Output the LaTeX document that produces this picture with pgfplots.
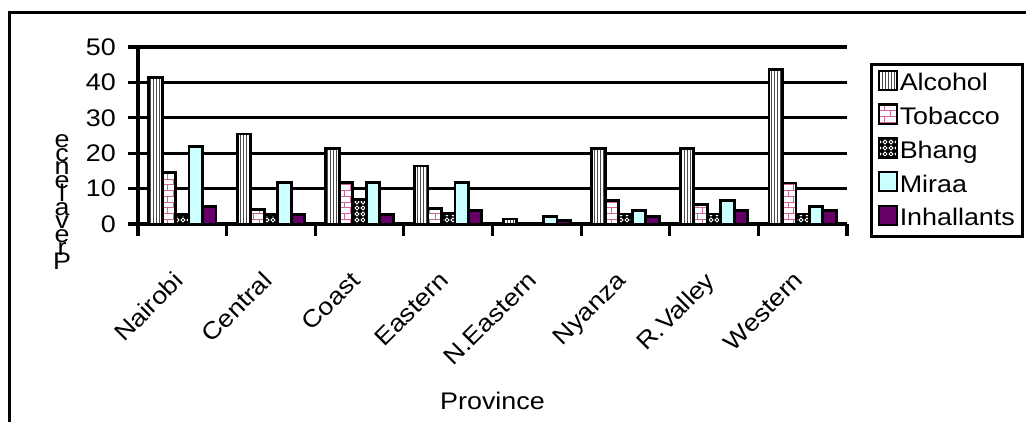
\documentclass[border=0pt]{standalone}
\usepackage{fontspec}
\setmainfont{Liberation Sans}[FakeStretch=1.12]
\usepackage{pgfplots}
\pgfplotsset{compat=1.18}
\usetikzlibrary{patterns}

\definecolor{brick}{RGB}{204,102,153}
\definecolor{miraa}{RGB}{204,255,255}
\definecolor{inhal}{RGB}{102,0,102}
\newcommand\stk[1]{\hbox to 16pt{\hss#1\hss}}

% white rings for the Bhang bars
\pgfdeclarepatternformonly{rings}{\pgfqpoint{-1pt}{-1pt}}{\pgfqpoint{7pt}{7pt}}{\pgfqpoint{6pt}{6pt}}{
  \pgfsetlinewidth{0.9pt}
  \pgfpathcircle{\pgfqpoint{3pt}{3pt}}{1.9pt}
  \pgfusepath{stroke}}

\begin{document}
\fontsize{24}{28}\selectfont
\begin{tikzpicture}
\begin{axis}[
  at={(0pt,0pt)}, anchor=south west,
  width=709pt, height=177pt, scale only axis,
  xmin=-0.5, xmax=7.5, ymin=0, ymax=50,
  ytick={0,10,...,50},
  xtick={0,...,7},
  xticklabels={Nairobi,Central,Coast,Eastern,N.Eastern,Nyanza,R.Valley,Western},
  minor xtick={-0.5,0.5,...,7.5},
  axis x line=bottom, axis y line=left,
  axis line style={-, line width=3.2pt},
  tick align=outside,
  major tick length=10pt, minor tick length=12pt,
  every tick/.style={black, line width=3.2pt},
  major x tick style={draw=none},
  ymajorgrids, major grid style={black, line width=3.2pt},
  ybar=0pt, bar width=0.152,
  /pgf/number format/assume math mode=true,
  tick label style={font=\fontsize{24}{28}\selectfont},
  yticklabel style={xshift=-4pt},
  xticklabel style={yshift=-36pt, xshift=-10pt, rotate=45, anchor=north east, inner sep=0pt},
  xlabel=Province,
  xlabel style={at={(axis description cs:0.5,-1.05)}, anchor=base},
  ylabel={\vbox{\baselineskip=13.5pt\lineskiplimit=-50pt\lineskip=0pt
    \stk{e}\stk{c}\stk{n}\stk{e}\stk{l}\stk{a}\stk{v}\stk{e}\stk{r}\stk{P}}},
  ylabel style={rotate=-90, anchor=center, inner sep=0pt,
    at={(axis description cs:-0.107,0.125)},
    font=\fontsize{24}{13}\selectfont},
  legend style={at={(axis description cs:1.0324,0.9096)}, anchor=north west,
    draw=black, line width=3.2pt, inner xsep=6pt, inner ysep=5pt, row sep=7pt,
    font=\fontsize{24}{28}\selectfont},
  legend cell align=left,
  legend image code/.code={\draw[#1,/tikz/.cd,line width=2.2pt,draw=black] (0pt,-0.25em) rectangle (18pt,0.55em);},
  every axis plot/.append style={draw=black, line width=2.8pt},
]
\addplot[fill=white, postaction={pattern=vertical lines, pattern color=gray!60!black}]
  coordinates {(0,41.3) (1,25.4) (2,21.3) (3,16.4) (4,1.4) (5,21.4) (6,21.4) (7,43.7)};
\addplot[fill=white, postaction={pattern=bricks, pattern color=brick}]
  coordinates {(0,14.5) (1,4.1) (2,11.7) (3,4.3) (4,0) (5,6.6) (6,5.4) (7,11.6)};
\addplot[fill=black, postaction={pattern=rings, pattern color=white}]
  coordinates {(0,2.7) (1,2.7) (2,7) (3,3) (4,0) (5,2.8) (6,2.8) (7,2.8)};
\addplot[fill=miraa]
  coordinates {(0,21.9) (1,11.7) (2,11.7) (3,11.7) (4,2.2) (5,3.8) (6,6.6) (7,5)};
\addplot[fill=inhal]
  coordinates {(0,5) (1,2.6) (2,2.6) (3,3.8) (4,1.1) (5,2.2) (6,3.8) (7,3.8)};
\legend{Alcohol,Tobacco,Bhang,Miraa,Inhallants}
\end{axis}
\draw[line width=3pt] (-128pt,-260pt) -- (-128pt,212pt) -- (960pt,212pt);
\pgfresetboundingbox
\path (-138pt,-197pt) rectangle (888pt,224pt);
\end{tikzpicture}
\end{document}
